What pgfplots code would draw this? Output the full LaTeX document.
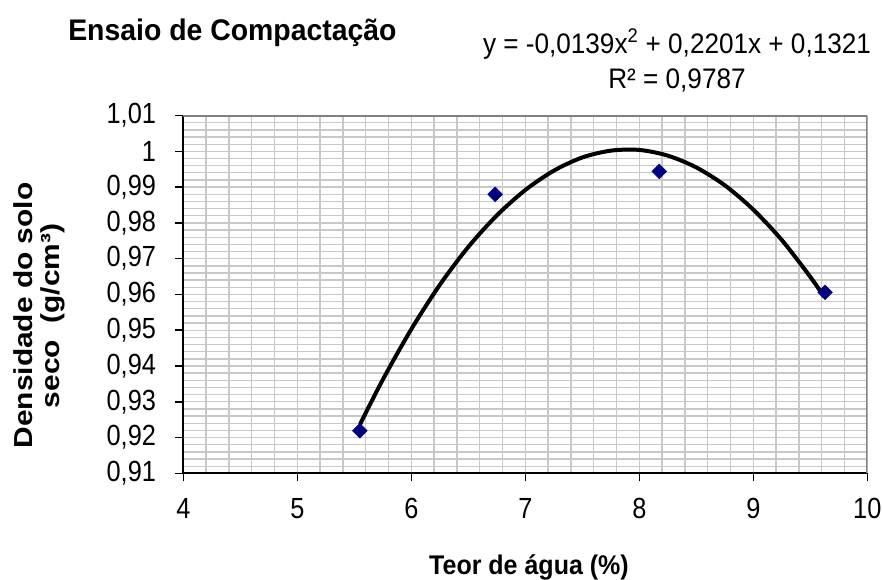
\documentclass[border=0pt]{standalone}
\usepackage{pgfplots}
\pgfplotsset{compat=1.18}
\usepackage{fontspec}
\setmainfont{Liberation Sans}
\usepackage{graphicx}
\definecolor{navy}{RGB}{0,0,128}
\definecolor{gridc}{RGB}{200,200,200}
\definecolor{borderc}{RGB}{128,128,128}
\begin{document}
\begin{tikzpicture}
\path[use as bounding box] (0,0) rectangle (661.5pt,435pt);
\begin{axis}[
  at={(137.5pt,80pt)}, anchor=south west,
  scale only axis, width=513pt, height=268.3pt,
  xmin=4, xmax=10, ymin=0.91, ymax=1.01,
  xtick={4,5,6,7,8,9,10},
  ytick={0.91,0.92,0.93,0.94,0.95,0.96,0.97,0.98,0.99,1.0,1.01},
  minor x tick num=4, minor y tick num=4,
  grid=both,
  major grid style={gridc, line width=1pt},
  minor grid style={gridc, line width=1pt},
  axis x line*=bottom, axis y line*=left,
  axis line style={black, line width=1.4pt, -},
  tick align=outside,
  major tick length=6pt, minor tick length=0pt,
  tick style={black, line width=1.2pt},
  /pgf/number format/.cd, use comma, fixed, precision=2, assume math mode=true,
  /pgfplots/.cd,
  xticklabel={\scalebox{1}[1.15]{\pgfmathprintnumber{\tick}}},
  yticklabel={\scalebox{1}[1.15]{\pgfmathprintnumber{\tick}}},
  xticklabel style={font=\fontsize{19}{20}\selectfont, yshift=-9pt},
  yticklabel style={font=\fontsize{19}{20}\selectfont, xshift=-11pt},
]
\addplot[black, line width=3pt, smooth, no marks] coordinates {
(5.55,0.9237) (5.75,0.9362) (6.0,0.9503) (6.25,0.9627) (6.5,0.9733)
(6.75,0.9821) (7.0,0.9892) (7.25,0.9946) (7.5,0.9983) (7.75,1.0002)
(8.0,1.0004) (8.25,0.9988) (8.5,0.9955) (8.75,0.9905) (9.0,0.9837)
(9.25,0.9752) (9.5,0.9649) (9.62,0.9594)
};
\addplot[only marks, mark=square*, mark size=3.9pt, mark options={rotate=45, fill=navy, draw=navy}] coordinates {
(5.548,0.9219) (6.735,0.9880) (8.175,0.9944) (9.629,0.9606)
};
\draw[borderc, line width=1.5pt] (rel axis cs:0,1) -- (rel axis cs:1,1) -- (rel axis cs:1,0);
\end{axis}
\node[anchor=base west, font=\bfseries\fontsize{21.3}{24}\selectfont, inner sep=0pt] at (51pt,404.5pt) {\scalebox{1}[1.05]{Ensaio de Compactação}};
\node[anchor=base, font=\fontsize{19.6}{22}\selectfont, inner sep=0pt] at (507.75pt,395pt) {\scalebox{1}[1.08]{y = -0,0139x\textsuperscript{2} + 0,2201x + 0,1321}};
\node[anchor=base, font=\fontsize{19.6}{22}\selectfont, inner sep=0pt] at (507.75pt,368.8pt) {\scalebox{1}[1.08]{R² = 0,9787}};
\node[anchor=base, font=\bfseries\fontsize{18.75}{22}\selectfont, inner sep=0pt] at (396.75pt,3.75pt) {\scalebox{1}[1.08]{Teor de água (\%)}};
\node[rotate=90, anchor=center, font=\bfseries\fontsize{19.5}{22}\selectfont, inner sep=0pt] at (17.25pt,198.4pt) {\scalebox{1.15}[1]{Densidade do solo}};
\node[rotate=90, anchor=center, font=\bfseries\fontsize{19.5}{22}\selectfont, inner sep=0pt] at (39.75pt,198pt) {\scalebox{1.15}[1]{seco\ \ (g/cm³)}};
\end{tikzpicture}
\end{document}
